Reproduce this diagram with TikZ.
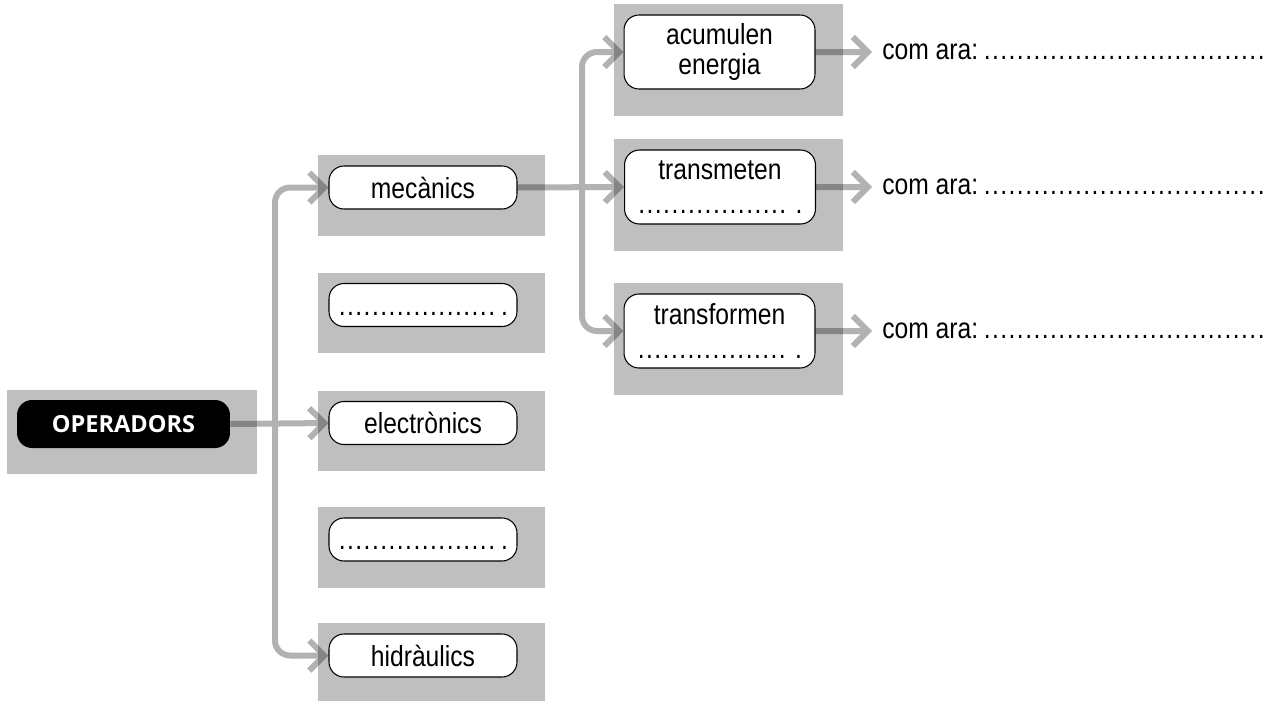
\documentclass[tikz,border=0pt]{standalone}
\usepackage{fontspec}
\setmainfont{Liberation Sans}[FakeStretch=0.85]
\newfontfamily\opfont{Open Sans}
\usetikzlibrary{arrows.meta,backgrounds}
\tikzset{>={Straight Barb[length=0.3cm,width=0.6cm]}}
\tikzset{
  box/.style={draw, line width=0.6pt, fill=white, rounded corners=0.3cm,
    minimum width=3.76cm, minimum height=0.86cm, inner sep=0pt, align=center,
    font=\fontsize{16.5}{18}\selectfont},
  tallbox/.style={box, minimum width=3.82cm, minimum height=1.48cm},
  emptybox/.style={box, text height=0.44cm, text depth=0.04cm},
  opbox/.style={fill=black, text=white, rounded corners=0.3cm,
    minimum width=4.26cm, minimum height=0.96cm, inner sep=0pt,
    font=\opfont\bfseries\fontsize{13.4}{15}\selectfont},
  example/.style={anchor=west, inner xsep=0.2cm, inner ysep=0pt,
    font=\fontsize{16.5}{18}\selectfont},
  link/.style={->, line width=0.12cm, rounded corners=0.3cm},
  panel/.style={fill=black!25},
}
\newcommand\blank[1]{\makebox[#1][l]{\leaders\hbox to 0.166cm{\hss.\hss}\hfill}}

\begin{document}
\begin{tikzpicture}[x=0.02cm, y=-0.02cm]
    \useasboundingbox (0,0) rectangle (1274,700);
    \node[opbox] (oper) at (123.5,424) {OPERADORS};
    % first level
    \node[box] (mec) at (423,187.5) {mecànics};
    \node[emptybox] (buit1) at (423,305) {\blank{3.2cm}\hspace{0.06cm}.};
    \node[box] (elec) at (423,423) {electrònics};
    \node[emptybox] (buit2) at (423,539.5) {\blank{3.2cm}\hspace{0.06cm}.};
    \node[box] (hidr) at (423,655.5) {hidràulics};
    % second level
    \node[tallbox] (acu) at (719.5,52) {acumulen\\[-1pt]energia};
    \node[tallbox] (trm) at (720,187) {transmeten\\[1pt]\blank{3.1cm}\hspace{0.06cm}.};
    \node[tallbox] (trf) at (719.5,331) {transformen\\[1pt]\blank{3.1cm}\hspace{0.06cm}.};
    \node[example] (ex1) at (872,52) {com ara:\,\blank{5.7cm}};
    \node[example] (ex2) at (872,187) {com ara:\,\blank{5.7cm}};
    \node[example] (ex3) at (872,331) {com ara:\,\blank{5.7cm}};
    \coordinate (lsplit) at (275,424);
    \coordinate (rsplit) at (582,187.5);
    \begin{scope}[on background layer]
        \foreach \n in {oper,mec,buit1,elec,buit2,hidr,acu,trm,trf}
            \fill[panel] ([shift={(-10,-10)}]\n.north west) rectangle ([shift={(27,26)}]\n.south east);
        \begin{scope}[transparency group, opacity=0.3]
            \draw[link] (oper.east) -- (elec.west);
            \draw[link] (lsplit) |- (mec.west);
            \draw[link] (lsplit) |- (hidr.west);
            \draw[link] (mec.east) -- (trm.west);
            \draw[link] (rsplit) |- (acu.west);
            \draw[link] (rsplit) |- (trf.west);
            \draw[link] (acu.east) -- (ex1.west);
            \draw[link] (trm.east) -- (ex2.west);
            \draw[link] (trf.east) -- (ex3.west);
        \end{scope}
    \end{scope}
\end{tikzpicture}
\end{document}
